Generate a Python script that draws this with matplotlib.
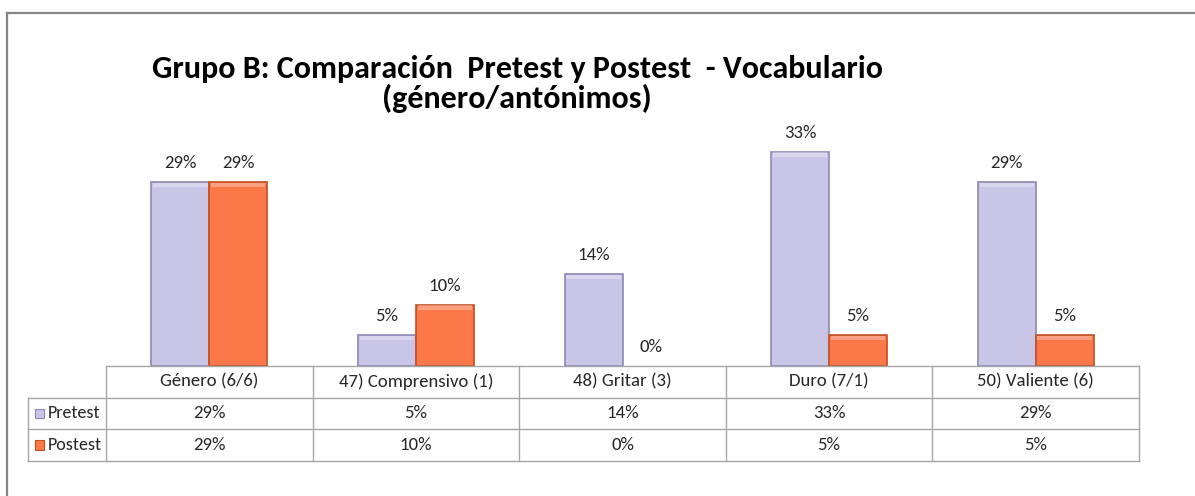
import matplotlib
matplotlib.use("Agg")
import matplotlib.pyplot as plt
from matplotlib import font_manager
from matplotlib.lines import Line2D
from matplotlib.patches import Rectangle
import numpy as np

# ---- data -------------------------------------------------------------
categories = ["Género (6/6)", "47) Comprensivo (1)", "48) Gritar (3)",
              "Duro (7/1)", "50) Valiente (6)"]
series_names = ["Pretest", "Postest"]
pretest = [6 / 21, 1 / 21, 3 / 21, 7 / 21, 6 / 21]
postest = [6 / 21, 2 / 21, 0 / 21, 1 / 21, 1 / 21]
title_text = "Grupo B: Comparación  Pretest y Postest  - Vocabulario\n(género/antónimos)"

# ---- styling ----------------------------------------------------------
def pick_font(cands):
    for c in cands:
        try:
            font_manager.findfont(c, fallback_to_default=False)
            return c
        except Exception:
            continue
    return "DejaVu Sans"

FONT = pick_font(["Carlito", "Liberation Sans Narrow", "Open Sans", "DejaVu Sans"])
plt.rcParams["font.family"] = [FONT, "DejaVu Sans"]

face_colors = ["#C9C5E7", "#FC7848"]
edge_colors = ["#8E89B5", "#C24E22"]
text_color = "#262626"
grid_color = "#A6A6A6"
FS = 13.5

W, H = 1195, 496
fig = plt.figure(figsize=(W / 100, H / 100), dpi=100)
fig.patch.set_facecolor("white")

def fx(px):
    return px / W

def fy(py):
    return 1 - py / H

# outer chart frame (runs off the right/bottom edge)
frame_kw = dict(color="#868686", lw=1.6, transform=fig.transFigure)
fig.add_artist(Line2D([fx(7), fx(W + 5)], [fy(13), fy(13)], **frame_kw))
fig.add_artist(Line2D([fx(7), fx(7)], [fy(13), fy(H + 5)], **frame_kw))

# ---- bar chart --------------------------------------------------------
left_px, right_px = 106, 1139
base_px, top_px = 366, 130
ax = fig.add_axes([fx(left_px), fy(base_px), fx(right_px - left_px),
                   (base_px - top_px) / H])
ymax = (base_px - top_px) / 643.0
n = len(categories)
x = np.arange(n)
bw = 0.28
ax.set_xlim(-0.5, n - 0.5)
ax.set_ylim(0, ymax)
ax.axis("off")

for k, vals in enumerate([pretest, postest]):
    offs = (k - 0.5) * bw
    lws = [1.2 if v > 0 else 0 for v in vals]
    bars = ax.bar(x + offs, vals, width=bw, color=face_colors[k],
                  edgecolor=edge_colors[k], linewidth=lws, zorder=2)
    for b, v in zip(bars, vals):
        # bevel highlight along the top of each bar
        if v > 0:
            bx, by, bwid, bh = b.get_x(), b.get_y(), b.get_width(), b.get_height()
            hl = min(0.007, bh * 0.25)
            ax.add_patch(Rectangle((bx + bwid * 0.03, by + bh - hl * 1.1),
                                   bwid * 0.94, hl, facecolor="white",
                                   alpha=0.3, lw=0, zorder=3))
        ax.annotate(f"{round(v * 100):d}%", (b.get_x() + b.get_width() / 2, v),
                    xytext=(0, 8), textcoords="offset points",
                    ha="center", va="bottom", fontsize=FS, color=text_color)

# ---- data table -------------------------------------------------------
leg_px = 28
bottom_px = 461
tax = fig.add_axes([fx(leg_px), fy(bottom_px), fx(right_px - leg_px),
                    (bottom_px - base_px) / H])
unit = (right_px - left_px) / n
x_left = -0.5 - (left_px - leg_px) / unit
tax.set_xlim(x_left, n - 0.5)
tax.set_ylim(3, 0)
tax.axis("off")
lk = dict(color=grid_color, lw=1.0, clip_on=False)

tax.plot([-0.5, n - 0.5], [0, 0], **lk)
for r in (1, 2, 3):
    tax.plot([x_left, n - 0.5], [r, r], **lk)
for c in range(n + 1):
    tax.plot([c - 0.5, c - 0.5], [0, 3], **lk)
tax.plot([x_left, x_left], [1, 3], **lk)

for i, cat in enumerate(categories):
    tax.text(i, 0.5, cat, ha="center", va="center", fontsize=FS, color=text_color)
for r, (name, vals) in enumerate(zip(series_names, [pretest, postest]), start=1):
    for i, v in enumerate(vals):
        tax.text(i, r + 0.5, f"{round(v * 100):d}%", ha="center", va="center",
                 fontsize=FS, color=text_color)
    sq = 9 / unit
    tax.add_patch(Rectangle((x_left + 7 / unit, r + 0.5 - 0.15), sq, 0.30,
                            facecolor=face_colors[r - 1], edgecolor=edge_colors[r - 1],
                            lw=0.8, clip_on=False))
    tax.text(x_left + 20 / unit, r + 0.5, name, ha="left", va="center",
             fontsize=13, color=text_color)

# ---- title ------------------------------------------------------------
fig.text(fx(517), fy(84), title_text, ha="center", va="center",
         fontsize=23, fontweight="bold", color="black", linespacing=1.05)

fig.savefig("out.png", dpi=100, facecolor="white")
